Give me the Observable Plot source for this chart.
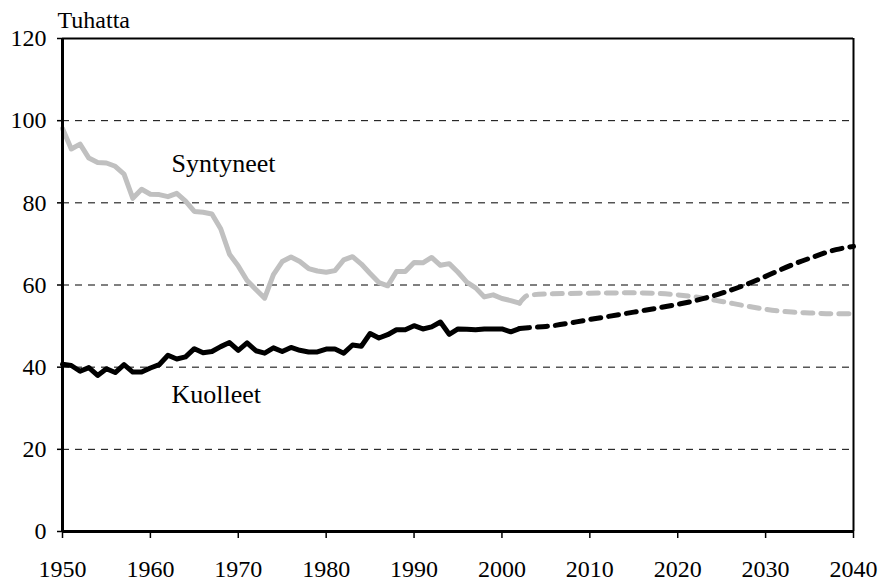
<!DOCTYPE html>
<html>
<head>
<meta charset="utf-8">
<script src="https://cdn.jsdelivr.net/npm/d3@7"></script>
<script src="https://cdn.jsdelivr.net/npm/@observablehq/plot@0.6"></script>
<style>
  html, body { margin: 0; padding: 0; background: #fff; }
  #chart svg { display: block; }
  #chart svg, #chart svg text { font-family: "Liberation Serif", "Times New Roman", serif; }
</style>
</head>
<body>
<div id="chart"></div>
<script>
// Observed years 1950-2002
const histYears = [1950,1951,1952,1953,1954,1955,1956,1957,1958,1959,
  1960,1961,1962,1963,1964,1965,1966,1967,1968,1969,
  1970,1971,1972,1973,1974,1975,1976,1977,1978,1979,
  1980,1981,1982,1983,1984,1985,1986,1987,1988,1989,
  1990,1991,1992,1993,1994,1995,1996,1997,1998,1999,
  2000,2001,2002];
// Syntyneet (births), thousands
const birthsHist = [98.1,93.1,94.3,90.9,89.8,89.7,88.9,87.0,81.1,83.3,
  82.1,82.0,81.5,82.3,80.4,77.9,77.7,77.3,73.7,67.5,
  64.6,61.1,58.9,56.8,62.5,65.7,66.8,65.7,64.0,63.4,
  63.1,63.5,66.1,66.9,65.1,62.8,60.6,59.8,63.3,63.3,
  65.5,65.4,66.7,64.8,65.2,63.1,60.7,59.3,57.1,57.6,
  56.7,56.2,55.6];
// Kuolleet (deaths), thousands
const deathsHist = [40.7,40.4,39.0,39.9,38.0,39.6,38.7,40.6,38.8,38.8,
  39.8,40.6,42.9,42.0,42.5,44.5,43.5,43.8,45.0,46.0,
  44.1,45.9,44.0,43.4,44.7,43.8,44.8,44.1,43.7,43.7,
  44.4,44.4,43.4,45.4,45.1,48.2,47.1,47.9,49.1,49.1,
  50.1,49.3,49.8,51.0,48.0,49.3,49.2,49.1,49.3,49.3,
  49.3,48.6,49.4];

// Projection 2002-2040
const projYears  = [2002,2003,2005,2010,2015,2020,2022,2025,2028,2030,2033,2035,2038,2040];
const birthsProj = [55.6,57.5,57.8,58.0,58.1,57.6,57.1,56.0,54.8,54.1,53.4,53.2,53.0,53.0];
const deathsProj = [49.4,49.6,49.9,51.6,53.4,55.3,56.2,58.0,60.3,62.1,64.9,66.5,68.6,69.4];

const xTicks = [1950,1960,1970,1980,1990,2000,2010,2020,2030,2040];
const yTicks = [0,20,40,60,80,100,120];
const gridValues = [20,40,60,80,100];

const seriesLabels = [
  {text: "Syntyneet", year: 1962.4, value: 89.5},
  {text: "Kuolleet",  year: 1962.4, value: 33.4}
];
const unitLabel = "Tuhatta";

const hist = histYears.map((y, i) => ({year: y, births: birthsHist[i], deaths: deathsHist[i]}));
const proj = projYears.map((y, i) => ({year: y, births: birthsProj[i], deaths: deathsProj[i]}));

const GREY = "#c0c0c0";
const FONT = "Liberation Serif, Times New Roman, serif";

const chart = Plot.plot({
  width: 878,
  height: 580,
  marginLeft: 62,
  marginRight: 25,
  marginTop: 38,
  marginBottom: 49,
  style: {fontFamily: FONT, fontSize: "24px", color: "#000", background: "#fff", overflow: "visible"},
  x: {domain: [1950, 2040]},
  y: {domain: [0, 120]},
  marks: [
    Plot.ruleY(gridValues, {stroke: "#000", strokeWidth: 1, strokeDasharray: "7,6"}),
    Plot.ruleY([120], {stroke: "#000", strokeWidth: 2}),
    Plot.ruleX([2040], {stroke: "#000", strokeWidth: 2}),
    Plot.line(proj, {x: "year", y: "births", stroke: GREY, strokeWidth: 5, strokeDasharray: "10,8", curve: "monotone-x"}),
    Plot.line(proj, {x: "year", y: "deaths", stroke: "#000", strokeWidth: 5, strokeDasharray: "10,8", curve: "monotone-x"}),
    Plot.line(hist, {x: "year", y: "births", stroke: GREY, strokeWidth: 5, strokeLinejoin: "round"}),
    Plot.line(hist, {x: "year", y: "deaths", stroke: "#000", strokeWidth: 5, strokeLinejoin: "round"}),
    Plot.ruleX([1950], {stroke: "#000", strokeWidth: 3}),
    Plot.ruleY([0], {stroke: "#000", strokeWidth: 3}),
    Plot.axisX({ticks: xTicks, tickFormat: d => String(d), tickSize: 7, tickPadding: 21, strokeWidth: 1.5, fontSize: 24, fontFamily: FONT, label: null}),
    Plot.axisY({ticks: yTicks, tickSize: 5, tickPadding: 11, strokeWidth: 1.5, fontSize: 24, fontFamily: FONT, label: null}),
    Plot.text(seriesLabels, {x: "year", y: "value", text: "text", textAnchor: "start", lineAnchor: "middle", fontSize: 26, fontFamily: FONT, fill: "#000"}),
    Plot.text([unitLabel], {frameAnchor: "top-left", textAnchor: "start", lineAnchor: "bottom", dx: -5, dy: -11, fontSize: 24, fontFamily: FONT, fill: "#000"})
  ]
});
document.getElementById("chart").appendChild(chart);
</script>
</body>
</html>
